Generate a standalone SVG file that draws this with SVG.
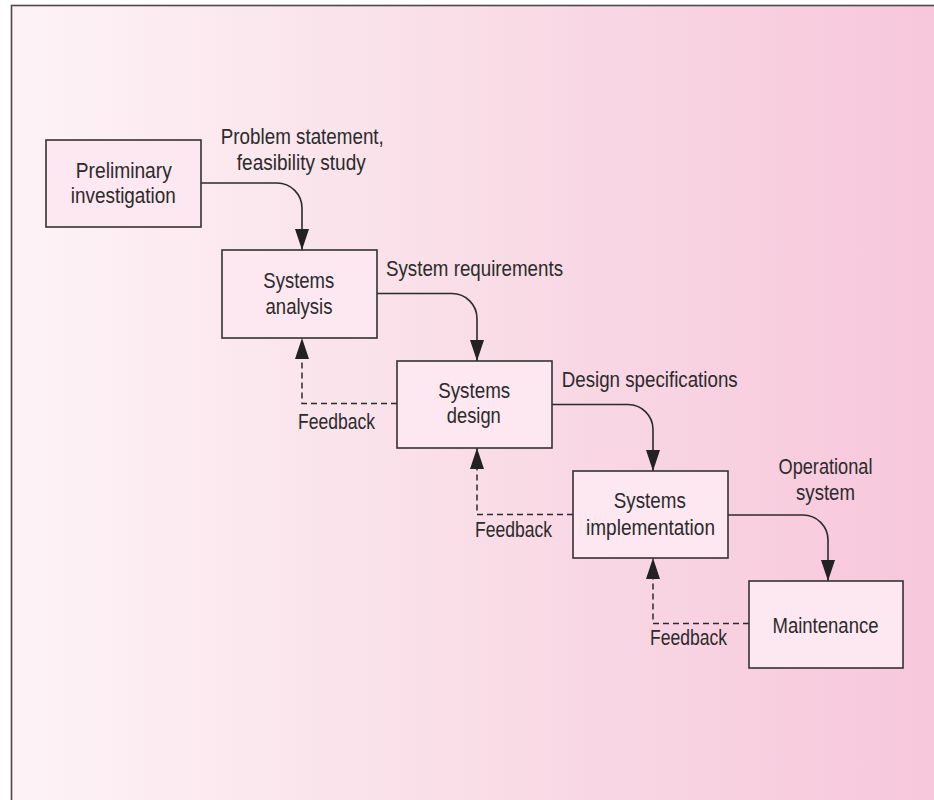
<svg xmlns="http://www.w3.org/2000/svg" width="934" height="800" viewBox="0 0 934 800">
  <defs>
    <linearGradient id="bg" x1="11" y1="0" x2="934" y2="0" gradientUnits="userSpaceOnUse">
      <stop offset="0" stop-color="#fdf3f6"/>
      <stop offset="0.5" stop-color="#f9dde7"/>
      <stop offset="1" stop-color="#f7c7db"/>
    </linearGradient>
    <marker id="head" viewBox="0 0 21 14" refX="21" refY="7" markerWidth="21" markerHeight="14" markerUnits="userSpaceOnUse" orient="auto">
      <path d="M0,0 L21,7 L0,14 Z" fill="#222"/>
    </marker>
  </defs>
  <style>
    .box { fill: #fde7f0; stroke: #333; stroke-width: 1.6; }
    .lbl { font-family: "Liberation Sans Narrow", "Liberation Sans", Arial, sans-serif; font-size: 22px; fill: #2b2b2b; }
    .mid { text-anchor: middle; }
    .flow { fill: none; stroke: #2b2b2b; stroke-width: 1.6; marker-end: url(#head); }
    .fb { fill: none; stroke: #2b2b2b; stroke-width: 1.5; stroke-dasharray: 6 4; marker-end: url(#head); }
  </style>

  <!-- panel -->
  <rect x="11.5" y="5.5" width="930" height="800" fill="url(#bg)" stroke="#4a4a4a" stroke-width="1.6"/>

  <!-- connectors -->
  <g id="connectors">
    <path class="flow" d="M201,183 H277 A25,25 0 0 1 302,208 V250"/>
    <path class="flow" d="M377,293.5 H452 A25,25 0 0 1 477,318.5 V361"/>
    <path class="flow" d="M552,404.5 H628 A25,25 0 0 1 653,429.5 V471"/>
    <path class="flow" d="M728,515 H803 A25,25 0 0 1 828,540 V581"/>
    <path class="fb" d="M397,403.5 H302 V338"/>
    <path class="fb" d="M573,514.5 H477 V448"/>
    <path class="fb" d="M749,623.5 H653 V558"/>
    <text class="lbl" x="302.3" y="144.3" text-anchor="middle" textLength="163" lengthAdjust="spacingAndGlyphs">Problem statement,</text>
    <text class="lbl" x="301.3" y="170" text-anchor="middle" textLength="129" lengthAdjust="spacingAndGlyphs">feasibility study</text>
    <text class="lbl" x="386" y="275.7" textLength="177" lengthAdjust="spacingAndGlyphs">System requirements</text>
    <text class="lbl" x="561.7" y="386.7" textLength="176" lengthAdjust="spacingAndGlyphs">Design specifications</text>
    <text class="lbl" x="825.5" y="474.3" text-anchor="middle" textLength="94" lengthAdjust="spacingAndGlyphs">Operational</text>
    <text class="lbl" x="825.5" y="500" text-anchor="middle" textLength="59" lengthAdjust="spacingAndGlyphs">system</text>
    <text class="lbl" x="298" y="429.3" textLength="77" lengthAdjust="spacingAndGlyphs">Feedback</text>
    <text class="lbl" x="475" y="536.7" textLength="77" lengthAdjust="spacingAndGlyphs">Feedback</text>
    <text class="lbl" x="650" y="645" textLength="77" lengthAdjust="spacingAndGlyphs">Feedback</text>
  </g>

  <!-- stages -->
  <g id="preliminary-investigation">
    <rect class="box" x="46" y="140" width="155" height="87"/>
    <text class="lbl mid" x="123.8" y="178.3" textLength="96" lengthAdjust="spacingAndGlyphs">Preliminary</text>
    <text class="lbl mid" x="123.3" y="203.3" textLength="105" lengthAdjust="spacingAndGlyphs">investigation</text>
  </g>
  <g id="systems-analysis">
    <rect class="box" x="222" y="250" width="155" height="88"/>
    <text class="lbl mid" x="298.8" y="288.3" textLength="71" lengthAdjust="spacingAndGlyphs">Systems</text>
    <text class="lbl mid" x="299" y="314" textLength="67" lengthAdjust="spacingAndGlyphs">analysis</text>
  </g>
  <g id="systems-design">
    <rect class="box" x="397" y="361" width="155" height="87"/>
    <text class="lbl mid" x="474.2" y="398.3" textLength="72" lengthAdjust="spacingAndGlyphs">Systems</text>
    <text class="lbl mid" x="473.8" y="423.3" textLength="54" lengthAdjust="spacingAndGlyphs">design</text>
  </g>
  <g id="systems-implementation">
    <rect class="box" x="573" y="471" width="155" height="87"/>
    <text class="lbl mid" x="649.8" y="508.3" textLength="72" lengthAdjust="spacingAndGlyphs">Systems</text>
    <text class="lbl mid" x="650.5" y="535" textLength="129" lengthAdjust="spacingAndGlyphs">implementation</text>
  </g>
  <g id="maintenance">
    <rect class="box" x="749" y="581" width="154" height="87"/>
    <text class="lbl mid" x="825.5" y="632.7" textLength="106" lengthAdjust="spacingAndGlyphs">Maintenance</text>
  </g>
</svg>
